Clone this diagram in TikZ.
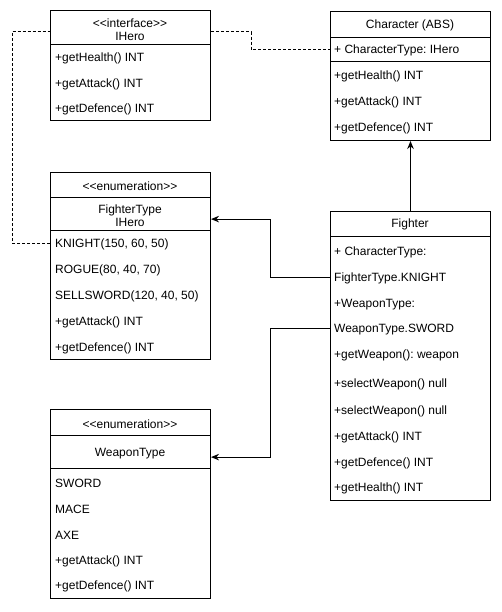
\documentclass[tikz,border=0pt]{standalone}
\usepackage{fontspec}
\setmainfont{Liberation Sans}
\usetikzlibrary{arrows.meta,calc}
\frenchspacing
\begin{document}
\begin{tikzpicture}[x=1pt,y=-1pt,
  comp/.style={draw,line width=1pt,rectangle,inner sep=0pt,minimum width=160pt,anchor=north west},
  row/.style={anchor=west,inner sep=0pt,yshift=-1.5pt,font=\fontsize{12}{13}\selectfont},
  ttl/.style={inner sep=0pt,align=center,yshift=-1pt,font=\fontsize{12}{13}\selectfont},
  dep/.style={line width=1pt,dash pattern=on 3pt off 2pt},
  assoc/.style={line width=1pt,-{Stealth[length=8pt,width=6.5pt]}}]
\fill[white] (0,0) rectangle (502,612);
\useasboundingbox (0,0) rectangle (502,612);

% IHero
\node[comp,minimum height=34pt] (ihhead) at (50,10) {};
\node[comp,minimum height=76pt] (ihbody) at (50,44) {};
\node[ttl] (ihtitle) at (130,29) {<{}<interface>{}>\\IHero};
\node[row] (ih1) at (55,57) {+getHealth() INT};
\node[row] (ih2) at (55,82.5) {+getAttack() INT};
\node[row] (ih3) at (55,108) {+getDefence() INT};

% Character
\node[comp,minimum height=26pt] (chhead) at (330,11) {};
\node[comp,minimum height=24pt] (chattr) at (330,37) {};
\node[comp,minimum height=79pt] (chbody) at (330,61) {};
\node[ttl] (chtitle) at (410,24) {Character (ABS)};
\node[row] (cha) at (334,49) {+ CharacterType: IHero};
\node[row] (ch1) at (334,75) {+getHealth() INT};
\node[row] (ch2) at (334,101) {+getAttack() INT};
\node[row] (ch3) at (334,127) {+getDefence() INT};

% FighterType
\node[comp,minimum height=25pt] (fthead1) at (50,172) {};
\node[comp,minimum height=33pt] (fthead2) at (50,197) {};
\node[comp,minimum height=129pt] (ftbody) at (50,230) {};
\node[ttl] (ftst) at (130,185) {<{}<enumeration>{}>};
\node[ttl] (ftname) at (130,215) {FighterType\\IHero};
\node[row] (ftk) at (55,243) {KNIGHT(150, 60, 50)};
\node[row] (ftr) at (55,269) {ROGUE(80, 40, 70)};
\node[row] (fts) at (55,295) {SELLSWORD(120, 40, 50)};
\node[row] (ft1) at (55,321) {+getAttack() INT};
\node[row] (ft2) at (55,347) {+getDefence() INT};

% Fighter
\node[comp,minimum height=25pt] (fihead) at (330,211) {};
\node[comp,minimum height=264pt] (fibody) at (330,236) {};
\node[ttl] (fititle) at (410,223.5) {Fighter};
\node[row] (fic) at (334,251) {+ CharacterType:};
\node[row] (fik) at (334,277) {FighterType.KNIGHT};
\node[row] (fiwt) at (334,303) {+WeaponType:};
\node[row] (fiw) at (334,328) {WeaponType.SWORD};
\node[row] (fi1) at (334,354) {+getWeapon(): weapon};
\node[row] (fi2) at (334,383) {+selectWeapon() null};
\node[row] (fi3) at (334,410) {+selectWeapon() null};
\node[row] (fi4) at (334,436) {+getAttack() INT};
\node[row] (fi5) at (334,462) {+getDefence() INT};
\node[row] (fi6) at (334,487) {+getHealth() INT};

% WeaponType
\node[comp,minimum height=26pt] (wthead1) at (50,409) {};
\node[comp,minimum height=33pt] (wthead2) at (50,435) {};
\node[comp,minimum height=130pt] (wtbody) at (50,468) {};
\node[ttl] (wtst) at (130,423) {<{}<enumeration>{}>};
\node[ttl] (wtname) at (130,452.5) {WeaponType};
\node[row] (wt1) at (55,482) {SWORD};
\node[row] (wt2) at (55,507.5) {MACE};
\node[row] (wt3) at (55,533.5) {AXE};
\node[row] (wt4) at (55,559.5) {+getAttack() INT};
\node[row] (wt5) at (55,585) {+getDefence() INT};

% connectors
\coordinate (ihL) at ($(ihhead.north west)!0.62!(ihhead.south west)$);
\coordinate (ihR) at ($(ihhead.north east)!0.62!(ihhead.south east)$);
\coordinate (ftin) at ($(fthead2.north east)!0.65!(fthead2.south east)$);
\coordinate (wtin) at ($(wthead2.north east)!0.65!(wthead2.south east)$);
\coordinate (ftport) at (ftbody.west |- 0,243);
\coordinate (fikport) at (fibody.west |- 0,277);
\coordinate (fiwport) at (fibody.west |- 0,328);
\draw[dep] (ftport) -- ++(-38,0) |- (ihL);
\draw[dep] (ihR) -- ++(40,0) |- (chattr.west);
\draw[assoc] (fihead.north) -- (chbody.south);
\draw[assoc] (fikport) -- ++(-60,0) |- (ftin);
\draw[assoc] (fiwport) -- ++(-60,0) |- (wtin);
\end{tikzpicture}
\end{document}
